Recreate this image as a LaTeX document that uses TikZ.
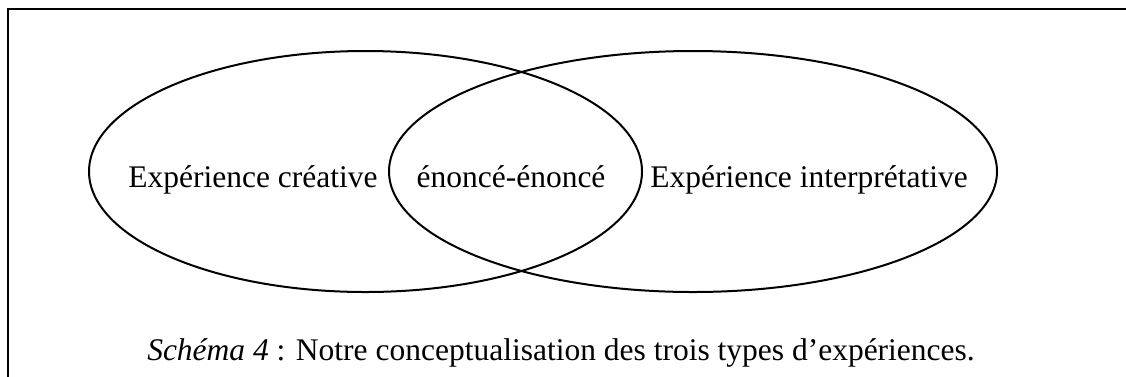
\documentclass[tikz,border=0pt]{standalone}
\usepackage{fontspec}
\setmainfont{Liberation Serif}
\usetikzlibrary{shapes.geometric}

\begin{document}
\begin{tikzpicture}[x=1pt, y=-1pt, line width=2pt,
    every node/.style={font=\fontsize{31.5}{36}\selectfont},
    zone/.style={ellipse, draw, inner sep=0pt},
    label/.style={anchor=base}]
      \clip (0,0) rectangle (1126,376);
      \draw (8,8.5) rectangle (1150,400);
      % the two experiences
      \node[zone, minimum width=553pt, minimum height=241pt] (creative) at (365.5,171.5) {};
      \node[zone, minimum width=608pt, minimum height=241pt] (interp) at (693,171.5) {};
      \node[label] (creaTxt) at (253,187) {Expérience créative};
      \node[label] (commonTxt) at (511,187) {énoncé-énoncé};
      \node[label] (interpTxt) at (809,187) {Expérience interprétative};
      \node[label] (caption) at (561,360)
        {\textit{Schéma 4} : Notre conceptualisation des trois types d’expériences.};
    \end{tikzpicture}
\end{document}
